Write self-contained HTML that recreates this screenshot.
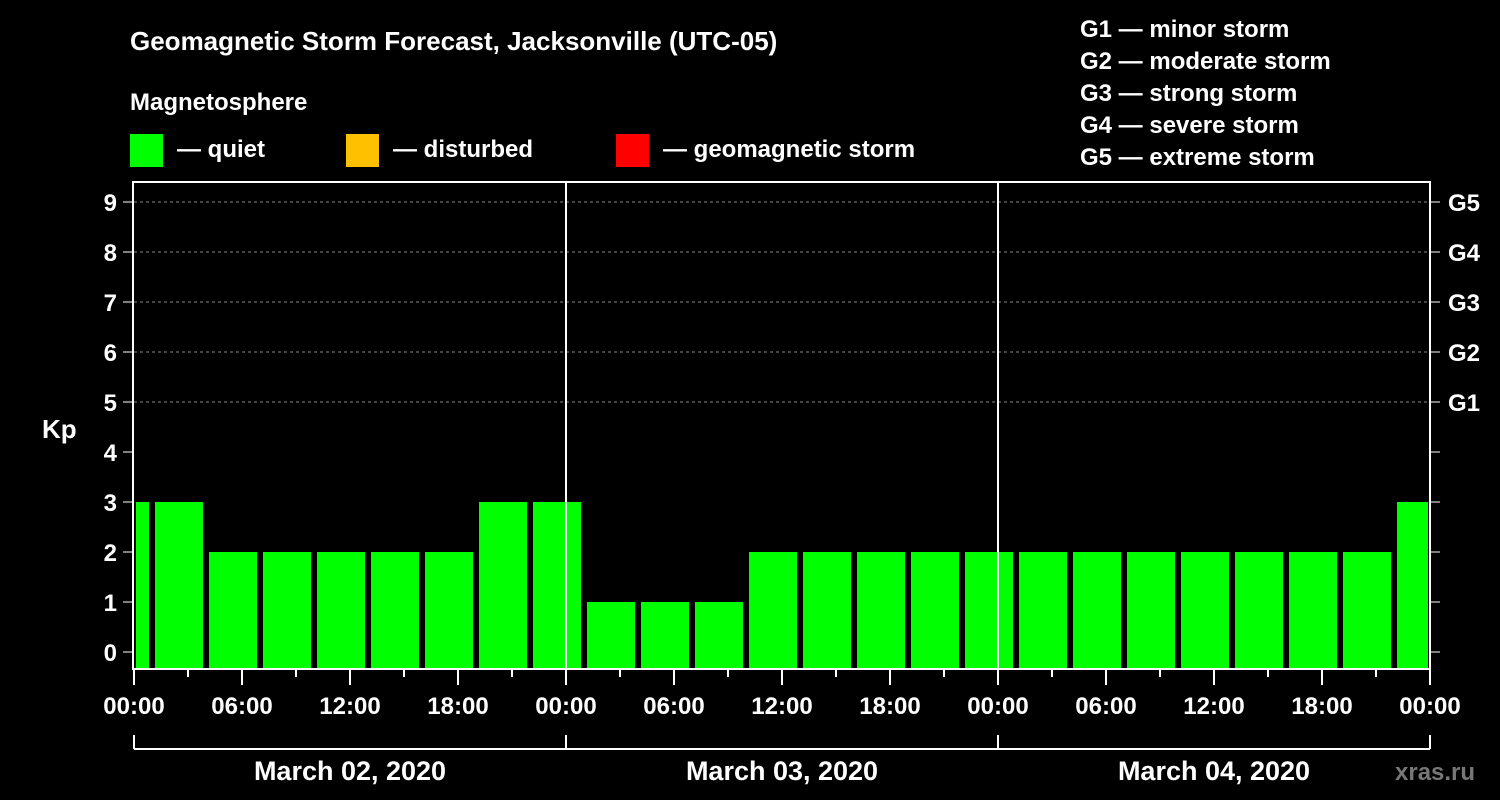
<!DOCTYPE html>
<html><head><meta charset="utf-8">
<style>
html,body{margin:0;padding:0;background:#000;}
svg{display:block;font-family:"Liberation Sans",Arial,sans-serif;font-weight:bold;}
</style></head>
<body>
<svg id="chart" width="1500" height="800" viewBox="0 0 1500 800">
<rect width="1500" height="800" fill="#000"/>
<text x="130" y="50" fill="#fff" font-size="26">Geomagnetic Storm Forecast, Jacksonville (UTC-05)</text>
<text x="130" y="110" fill="#fff" font-size="24">Magnetosphere</text>
<g><rect x="130" y="134" width="33" height="33" fill="#00ff00"/><text x="177" y="157" fill="#fff" font-size="24">— quiet</text></g>
<g><rect x="346" y="134" width="33" height="33" fill="#ffc000"/><text x="393" y="157" fill="#fff" font-size="24">— disturbed</text></g>
<g><rect x="616" y="134" width="33" height="33" fill="#ff0000"/><text x="663" y="157" fill="#fff" font-size="24">— geomagnetic storm</text></g>
<g fill="#fff" font-size="24">
<text x="1080" y="37">G1 — minor storm</text>
<text x="1080" y="69">G2 — moderate storm</text>
<text x="1080" y="101">G3 — strong storm</text>
<text x="1080" y="133">G4 — severe storm</text>
<text x="1080" y="165">G5 — extreme storm</text>
</g>
<text x="42" y="438" fill="#fff" font-size="26">Kp</text>
<text x="1395" y="780" fill="#777" font-size="24">xras.ru</text>
<g id="plot"></g>
</svg>
<script>
// hours since 2020-03-02 00:00 local for each 3h bin start
const barStarts = [-2,1,4,7,10,13,16,19,22,25,28,31,34,37,40,43,46,49,52,55,58,61,64,67,70];
const values = [3,3,2,2,2,2,2,3,3,1,1,1,2,2,2,2,2,2,2,2,2,2,2,2,3];
const xTickLabels = ["00:00","06:00","12:00","18:00"];
const dayLabels = ["March 02, 2020","March 03, 2020","March 04, 2020"];
const gLabels = ["G1","G2","G3","G4","G5"];

const NS="http://www.w3.org/2000/svg";
const g=document.getElementById('plot');
const X0=134,X1=1430,HMAX=72,YT=182,YB=669;
const x=h=>X0+(X1-X0)*h/HMAX;
const y=v=>652-50*v;
function mk(t,a,p){const e=document.createElementNS(NS,t);for(const k in a)e.setAttribute(k,a[k]);(p||g).appendChild(e);return e;}

// grid
for(let v=5;v<=9;v++){const l=mk('line',{x1:X0,x2:X1,y1:y(v),y2:y(v),stroke:'#888','stroke-dasharray':'3,3','stroke-width':1});

}
// bars
barStarts.forEach((s,i)=>{
 const a=Math.max(x(s)+3,x(0)+2),b=Math.min(x(s+3)-3,X1-2);
 const v=values[i];
 const c=v>=5?'#ff0000':(v>=4?'#ffc000':'#00ff00');
 const r=mk('rect',{x:a,y:y(v),width:b-a,height:YB-1-y(v),fill:c});
 
 
});
// day dividers
[24,48].forEach(h=>{const l=mk('line',{x1:x(h),x2:x(h),y1:YT,y2:YB,stroke:'#fff','stroke-width':2});

});
// axes box
const bx=mk('rect',{x:X0-1,y:YT,width:X1-X0+1,height:YB-YT,fill:'none',stroke:'#fff','stroke-width':2});


// y ticks
for(let v=0;v<=9;v++){
 mk('line',{x1:X0-11,x2:X0-1,y1:y(v),y2:y(v),stroke:'#fff','stroke-width':1});
 mk('line',{x1:X1,x2:X1+10,y1:y(v),y2:y(v),stroke:'#fff','stroke-width':1});
 const t=mk('text',{x:X0-17,y:y(v)+9,fill:'#fff','font-size':24,'text-anchor':'end'});t.textContent=v;
 
 
 if(v>=5){const r=mk('text',{x:X1+18,y:y(v)+9,fill:'#fff','font-size':24});r.textContent=gLabels[v-5];
 
 }
}
// x ticks
for(let h=0;h<=HMAX;h+=3){
 const major=h%6===0;
 mk('line',{x1:x(h),x2:x(h),y1:YB,y2:YB+(major?16:8),stroke:'#fff','stroke-width':2});
 if(major){const t=mk('text',{x:x(h),y:714,fill:'#fff','font-size':24,'text-anchor':'middle'});
 t.textContent=xTickLabels[(h%24)/6];
 
 }
}
// date bracket
const br=mk('line',{x1:x(0),x2:X1,y1:749,y2:749,stroke:'#fff','stroke-width':2});


[0,24,48,72].forEach(h=>mk('line',{x1:x(h),x2:x(h),y1:735,y2:749,stroke:'#fff','stroke-width':2}));
dayLabels.forEach((d,i)=>{const t=mk('text',{x:x(i*24+12),y:780,fill:'#fff','font-size':27,'text-anchor':'middle'});t.textContent=d;
 
 });
</script>
</body></html>
